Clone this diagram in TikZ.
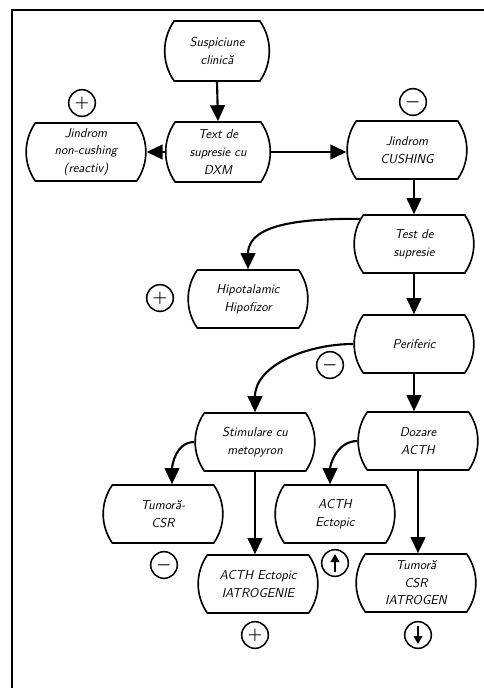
\documentclass[tikz,border=0pt]{standalone}
\usepackage{tikz}
\usetikzlibrary{arrows.meta, shapes.misc}

\begin{document}
\begin{tikzpicture}[
    x=0.03cm, y=-0.03cm,
    % ── Decision boxes: flat top/bottom, bulging sides ──────────────
    block/.style={
        draw, rounded rectangle, rounded rectangle arc length=70,
        minimum width=3.66cm, minimum height=1.74cm, inner sep=1pt,
        align=center, font=\fontsize{11}{15}\selectfont\sffamily\itshape,
        line width=1.4pt
    },
    narrow/.style={minimum width=1.83cm, minimum height=1.8cm},
    % ── Heavy arrows with big filled heads ──────────────────────────
    arrow/.style={line width=1.8pt, -{Triangle[width=0.44cm, length=0.48cm]}},
    % ── Result signs in small circles ───────────────────────────────
    sign/.style={draw, circle, minimum size=0.8cm, inner sep=0pt,
                 line width=1.3pt, font=\Large\boldmath},
    tip/.style={line width=1.4pt, -{Triangle[width=0.26cm, length=0.24cm]}},
    frame/.style={line width=2pt}
]
    \useasboundingbox (0,0) rectangle (484,688);

    % page frame (left and top edge)
    \draw[frame] (12,688) -- (12,10) -- (484,10);

% ══════════════════════════════════════════════════════════════════════
% NODE PLACEMENT
% ══════════════════════════════════════════════════════════════════════

    % ── Screening ──────────────────────────────────────────────────
    \node[block, narrow] (b1) at (217, 51) {Suspiciune\\clinică};
    \node[block, narrow] (b2) at (218,152) {Text de\\supresie cu\\DXM};
    \node[block] (b3) at ( 86,152) {Jindrom\\non-cushing\\(reactiv)};
    \node[block] (b4) at (407,150) {Jindrom\\CUSHING};

    % ── Localisation ───────────────────────────────────────────────
    \node[block] (b5) at (414,244) {Test de\\supresie};
    \node[block] (b6) at (248,299) {Hipotalamic\\Hipofizor};
    \node[block] (b7) at (414,344) {Periferic};
    \node[block] (b8) at (255,442) {Stimulare cu\\metopyron};
    \node[block] (b9) at (418,441) {Dozare\\ACTH};

    % ── Final results ──────────────────────────────────────────────
    \node[block] (b10) at (163,514) {Tumoră-\\CSR};
    \node[block] (b11) at (335,514) {ACTH\\Ectopic};
    \node[block] (b12) at (258,584) {ACTH Ectopic\\IATROGENIE};
    \node[block] (b13) at (416,583) {Tumoră\\CSR\\IATROGEN};

    % ── Signs ──────────────────────────────────────────────────────
    \node[sign] (s1) at ( 82,103) {$+$};
    \node[sign] (s2) at (413,102) {$-$};
    \node[sign] (s3) at (160,298) {$+$};
    \node[sign] (s4) at (330,365) {$-$};
    \node[sign] (s5) at (164,565) {$-$};
    \node[sign] (s6) at (335,563) {};
    \node[sign] (s7) at (255,635) {$+$};
    \node[sign] (s8) at (418,635) {};
    \draw[tip] ([yshift=-0.26cm]s6.center) -- ([yshift=0.27cm]s6.center);
    \draw[tip] ([yshift=0.26cm]s8.center) -- ([yshift=-0.27cm]s8.center);

% ══════════════════════════════════════════════════════════════════════
% CONNECTIONS
% ══════════════════════════════════════════════════════════════════════

    \draw[arrow] (b1.south) -- (b2.north);
    \draw[arrow] (b2.west) -- (b3.east);
    \draw[arrow] (b2.east) -- (b2.east -| b4.west);
    \draw[arrow] (b5.north |- b4.south) -- (b5.north);

    \draw[arrow] (b5.155) to[out=180, in=90] (b6.north);
    \draw[arrow] (b5.south) -- (b7.north);

    \draw[arrow] (b7.west) to[out=180, in=90] (b8.north);
    \draw[arrow] (b7.south) -- (b7.south |- b9.north);

    \draw[arrow] (b8.west) to[out=180, in=90] ([xshift=0.27cm]b10.north);
    \draw[arrow] (b8.south) -- (b8.south |- b12.north);

    \draw[arrow] (b9.west) to[out=180, in=90] ([xshift=-0.15cm]b11.north);
    \draw[arrow] (b9.south) -- (b9.south |- b13.north);

\end{tikzpicture}
\end{document}
